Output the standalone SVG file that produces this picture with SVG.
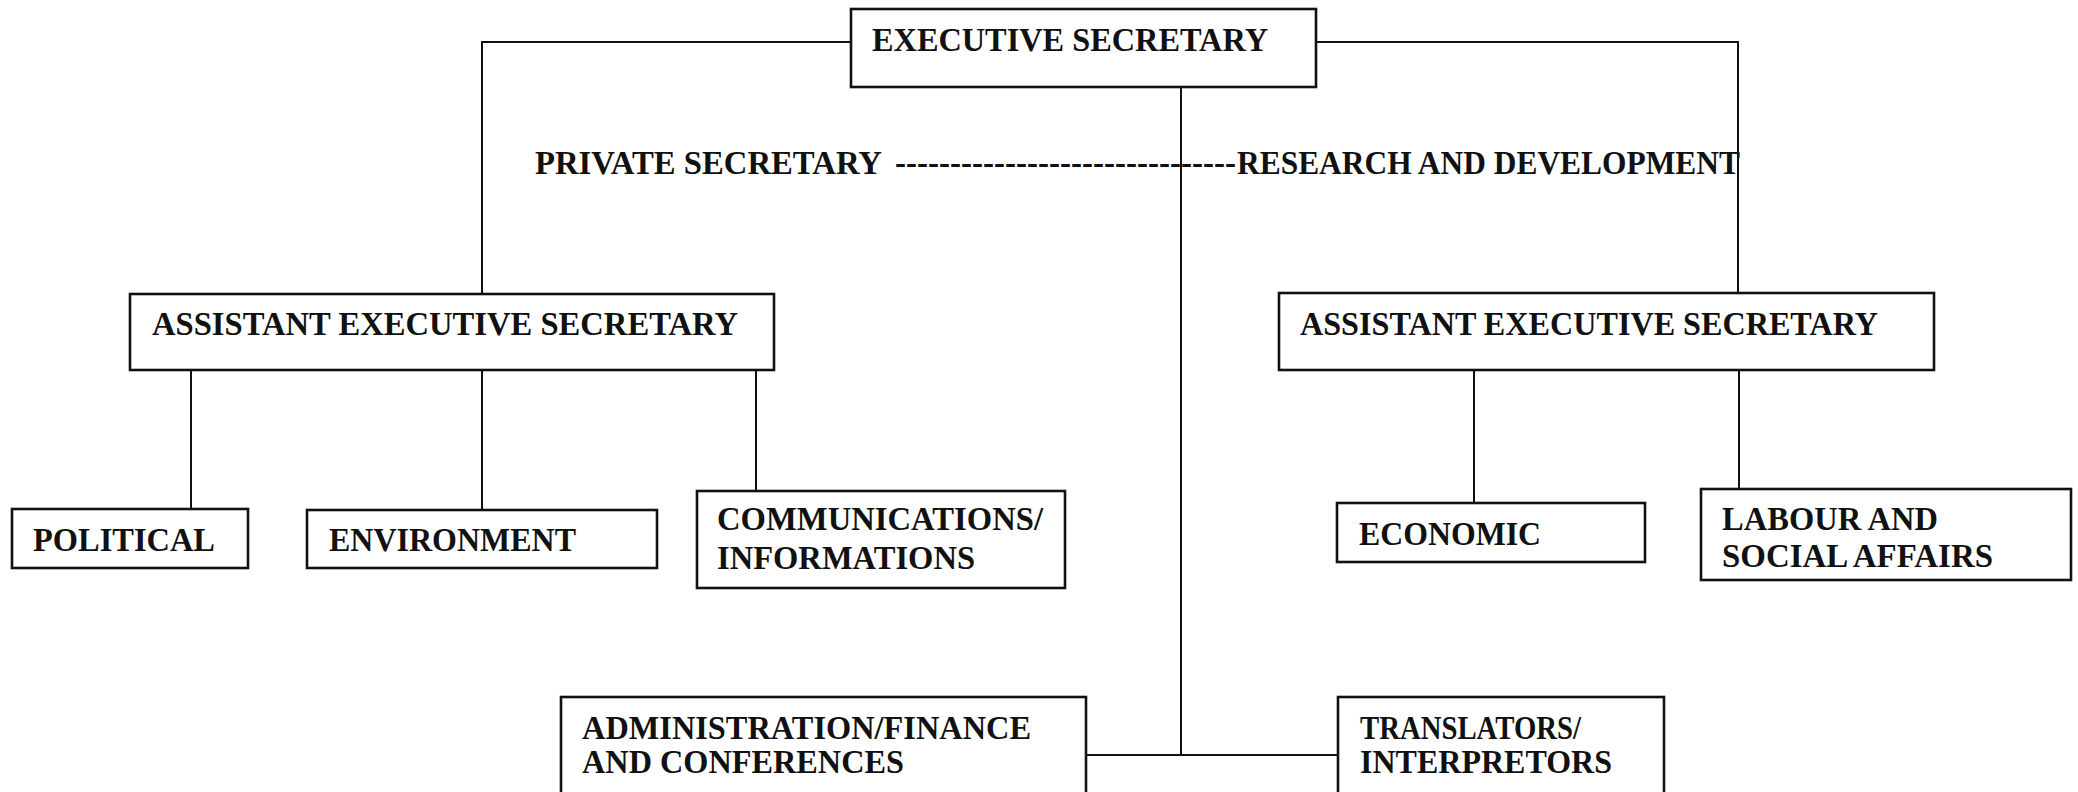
<svg xmlns="http://www.w3.org/2000/svg" width="2078" height="792" viewBox="0 0 2078 792">
<style>
.box{fill:#fff;stroke:#111;stroke-width:2.6}
.ln{fill:none;stroke:#111;stroke-width:2}
text{font-family:"Liberation Serif","Times New Roman",serif;font-weight:bold;font-size:33px;fill:#111}
</style>
<rect width="2078" height="792" fill="#fff"/>
<g id="connectors">
<path class="ln" d="M482 294V42H851"/>
<path class="ln" d="M1316 42H1738V293"/>
<path class="ln" d="M1181 87V755"/>
<path class="ln" d="M1086 755H1338"/>
<path class="ln" d="M191 370V509M482 370V510M756 370V491"/>
<path class="ln" d="M1474 370V503M1739 370V489"/>
</g>
<g id="exec"><rect class="box" x="851" y="9" width="465" height="78"/><text x="872" y="51" textLength="396" lengthAdjust="spacingAndGlyphs">EXECUTIVE SECRETARY</text></g>
<g id="staff"><text x="535" y="174" textLength="347" lengthAdjust="spacingAndGlyphs">PRIVATE SECRETARY</text><text x="895" y="174" textLength="341" lengthAdjust="spacingAndGlyphs">-------------------------------</text><text x="1237" y="174" textLength="503" lengthAdjust="spacingAndGlyphs">RESEARCH AND DEVELOPMENT</text></g>
<g id="aesL"><rect class="box" x="130" y="294" width="644" height="76"/><text x="152" y="335" textLength="586" lengthAdjust="spacingAndGlyphs">ASSISTANT EXECUTIVE SECRETARY</text></g>
<g id="aesR"><rect class="box" x="1279" y="293" width="655" height="77"/><text x="1300" y="335" textLength="578" lengthAdjust="spacingAndGlyphs">ASSISTANT EXECUTIVE SECRETARY</text></g>
<g id="political"><rect class="box" x="12" y="509" width="236" height="59"/><text x="33" y="551" textLength="182" lengthAdjust="spacingAndGlyphs">POLITICAL</text></g>
<g id="environment"><rect class="box" x="307" y="510" width="350" height="58"/><text x="329" y="551" textLength="247" lengthAdjust="spacingAndGlyphs">ENVIRONMENT</text></g>
<g id="communications"><rect class="box" x="697" y="491" width="368" height="97"/><text x="717" y="530" textLength="326" lengthAdjust="spacingAndGlyphs">COMMUNICATIONS/</text><text x="717" y="569" textLength="258" lengthAdjust="spacingAndGlyphs">INFORMATIONS</text></g>
<g id="economic"><rect class="box" x="1337" y="503" width="308" height="59"/><text x="1359" y="545" textLength="182" lengthAdjust="spacingAndGlyphs">ECONOMIC</text></g>
<g id="labour"><rect class="box" x="1701" y="489" width="370" height="91"/><text x="1722" y="530" textLength="216" lengthAdjust="spacingAndGlyphs">LABOUR AND</text><text x="1722" y="567" textLength="271" lengthAdjust="spacingAndGlyphs">SOCIAL AFFAIRS</text></g>
<g id="admin"><rect class="box" x="561" y="697" width="525" height="110"/><text x="582" y="739" textLength="449" lengthAdjust="spacingAndGlyphs">ADMINISTRATION/FINANCE</text><text x="582" y="773" textLength="322" lengthAdjust="spacingAndGlyphs">AND CONFERENCES</text></g>
<g id="translators"><rect class="box" x="1338" y="697" width="326" height="110"/><text x="1360" y="739" textLength="221" lengthAdjust="spacingAndGlyphs">TRANSLATORS/</text><text x="1360" y="773" textLength="252" lengthAdjust="spacingAndGlyphs">INTERPRETORS</text></g>
</svg>
